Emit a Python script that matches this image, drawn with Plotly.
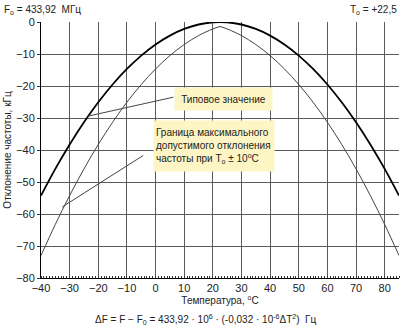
import plotly.graph_objects as go

# Temperature grid, °C
temps = [-40, -35, -30, -25, -20, -15, -10, -5, 0, 5, 10, 15, 20, 22.5,
         25, 30, 35, 40, 45, 50, 55, 60, 65, 70, 75, 80, 85]

# Typical frequency deviation, kHz
typical = [-54.24, -45.91, -38.27, -31.33, -25.08, -19.53, -14.67, -10.50, -7.03,
           -4.25, -2.17, -0.78, -0.09, 0.0, -0.09, -0.78, -2.17, -4.25, -7.03,
           -10.50, -14.67, -19.53, -25.08, -31.33, -38.27, -45.91, -54.24]

# Limit of max deviation for T0 ± 10 °C, kHz (left and right branches)
limit_left_t = [-40, -35, -30, -25, -20, -15, -10, -5, 0, 5, 10, 15, 20, 22.5]
limit_left = [-72.98, -63.26, -54.24, -45.91, -38.27, -31.33, -25.08, -19.53,
              -14.67, -10.50, -7.03, -4.25, -2.17, -1.39]
limit_right_t = [22.5, 25, 30, 35, 40, 45, 50, 55, 60, 65, 70, 75, 80, 85]
limit_right = [-1.39, -2.17, -4.25, -7.03, -10.50, -14.67, -19.53, -25.08,
               -31.33, -38.27, -45.91, -54.24, -63.26, -72.98]

x_ticks = list(range(-40, 81, 10))
y_ticks = list(range(-80, 1, 10))

FONT = "Liberation Sans"
TXT = "#222222"
BOX = "#fdf6c4"

fig = go.Figure()
fig.add_trace(go.Scatter(x=limit_left_t, y=limit_left, mode="lines",
                         line=dict(color="#444444", width=1, shape="spline"),
                         showlegend=False, hoverinfo="skip"))
fig.add_trace(go.Scatter(x=limit_right_t, y=limit_right, mode="lines",
                         line=dict(color="#444444", width=1, shape="spline"),
                         showlegend=False, hoverinfo="skip"))
fig.add_trace(go.Scatter(x=temps, y=typical, mode="lines",
                         line=dict(color="#000000", width=1.8, shape="spline"),
                         showlegend=False, hoverinfo="skip"))

# Leader lines from the captions to the curves
fig.add_shape(type="line", x0=6.2, y0=-23.5, x1=-23.5, y1=-29.4,
              line=dict(color="#444444", width=1), layer="above")
fig.add_shape(type="line", x0=-4.3, y0=-41.7, x1=-32.6, y1=-57.8,
              line=dict(color="#444444", width=1), layer="above")

fig.add_annotation(x=23.6, y=-24.2, text="Типовое значение", showarrow=False,
                   bgcolor=BOX, width=93, height=18, borderpad=2,
                   font=dict(family=FONT, size=10, color=TXT))
fig.add_annotation(x=20.3, y=-38.8,
                   text="Граница максимального<br>допустимого отклонения<br>"
                        "частоты при T<sub>o</sub> ± 10<sup>o</sup>C",
                   showarrow=False, align="left", bgcolor=BOX,
                   width=116, height=46, borderpad=2,
                   font=dict(family=FONT, size=10, color=TXT))

fig.add_annotation(xref="paper", yref="paper", x=-0.11, y=1.0, yshift=12,
                   xanchor="left", yanchor="middle", showarrow=False,
                   text="F<sub>o</sub> = 433,92  МГц",
                   font=dict(family=FONT, size=10, color=TXT))
fig.add_annotation(xref="paper", yref="paper", x=1.0, y=1.0, yshift=12,
                   xanchor="right", yanchor="middle", showarrow=False,
                   text="T<sub>o</sub> = +22,5",
                   font=dict(family=FONT, size=10, color=TXT))
fig.add_annotation(xref="paper", yref="paper", x=0.46, y=0, yshift=-41,
                   xanchor="center", yanchor="middle", showarrow=False,
                   text="ΔF = F − F<sub>0</sub> = 433,92 · 10<sup>6</sup> · "
                        "(-0,032 · 10<sup>-6</sup>ΔT<sup>2</sup>)  Гц",
                   font=dict(family=FONT, size=10, color=TXT))

fig.update_xaxes(range=[-40, 85], tickvals=x_ticks, showgrid=True,
                 gridcolor="#5a5a5a", gridwidth=1, zeroline=False,
                 showline=True, linecolor="#000000", linewidth=1,
                 ticks="", tickfont=dict(family=FONT, size=11, color=TXT),
                 title=dict(text="Температура, <sup>o</sup>C", standoff=3,
                            font=dict(family=FONT, size=10, color=TXT)),
                 minor=dict(dtick=1, ticks="inside", ticklen=2,
                            tickcolor="#333333", showgrid=False))
fig.update_yaxes(range=[-80, 0], tickvals=y_ticks, showgrid=True,
                 gridcolor="#5a5a5a", gridwidth=1, zeroline=False,
                 showline=True, linecolor="#000000", linewidth=1,
                 ticks="outside", ticklen=3, tickcolor="#333333",
                 tickfont=dict(family=FONT, size=11, color=TXT),
                 title=dict(text="Отклонение частоты, кГц", standoff=2,
                            font=dict(family=FONT, size=10, color=TXT)))

fig.update_layout(width=400, height=327, margin=dict(l=41, r=1, t=22, b=49),
                  paper_bgcolor="white", plot_bgcolor="white")
fig.write_html("out.html")
